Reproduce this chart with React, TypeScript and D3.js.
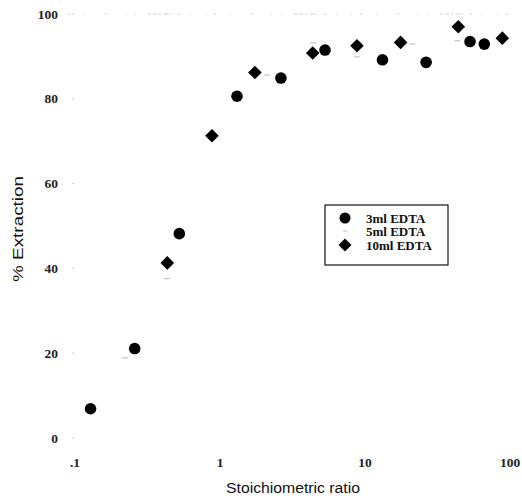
import React from "react";
import * as d3 from "d3";

const ratio3ml = [0.128, 0.258, 0.524, 1.31, 2.63, 5.3, 13.2, 26.4, 53, 66.5];
const extraction3ml = [6.9, 21.1, 48.2, 80.6, 84.9, 91.5, 89.2, 88.6, 93.5, 92.9];

const ratio5ml = [0.221, 0.43, 0.88, 2.11, 4.38, 8.8, 21.2, 43.4];
const extraction5ml = [18.9, 37.6, 70.5, 85.6, 93.2, 89.9, 92.9, 93.7];

const ratio10ml = [0.433, 0.88, 1.74, 4.36, 8.8, 17.6, 44, 88.5];
const extraction10ml = [41.3, 71.3, 86.2, 90.8, 92.5, 93.3, 97.0, 94.3];

const xTicks = [0.1, 1, 10, 100];
const xTickLabels = [".1", "1", "10", "100"];
const yTicks = [0, 20, 40, 60, 80, 100];

const seriesNames = ["3ml EDTA", "5ml EDTA", "10ml EDTA"];

export default function App() {
  const W = 522;
  const H = 499;
  const x = d3.scaleLog().domain([0.1, 100]).range([75, 510]);
  const y = d3.scaleLinear().domain([0, 100]).range([438, 14]);
  const serif = "'Liberation Serif', 'Times New Roman', serif";
  const sans = "'Liberation Sans', Arial, sans-serif";

  const diamond = (cx: number, cy: number, r: number) =>
    `M${cx},${cy - r}L${cx + r},${cy}L${cx},${cy + r}L${cx - r},${cy}Z`;

  return (
    <svg
      width={W}
      height={H}
      style={{ position: "absolute", left: 0, top: 0, background: "#fff" }}
    >
      {/* faint top border */}
      <line
        x1={68}
        x2={515}
        y1={y(100)}
        y2={y(100)}
        stroke="#cfcfcf"
        strokeWidth={1}
        strokeDasharray="2,14,1,20,2,18,1,9,1,12,3,2,4,2,2,3,5,2,1,6,2,10,1,14,1,8"
      />
      {/* y ticks */}
      {yTicks.map((t) => (
        <g key={"y" + t}>
          <line x1={72} x2={74} y1={y(t)} y2={y(t)} stroke="#ccc" strokeWidth={1} />
          <text
            x={58}
            y={y(t) + 4.5}
            textAnchor="end"
            fontFamily={serif}
            fontSize={13.5}
            fontWeight="bold"
            fill="#222"
          >
            {t}
          </text>
        </g>
      ))}
      {/* x ticks */}
      {xTicks.map((t, i) => (
        <text
          key={"x" + t}
          x={x(t)}
          y={467}
          textAnchor="middle"
          fontFamily={serif}
          fontSize={13.5}
          fontWeight="bold"
          fill="#222"
        >
          {xTickLabels[i]}
        </text>
      ))}
      {/* axis titles */}
      <text
        x={293}
        y={493}
        textAnchor="middle"
        fontFamily={sans}
        fontSize={14}
        textLength={134}
        lengthAdjust="spacingAndGlyphs"
        fill="#111"
      >
        Stoichiometric ratio
      </text>
      <text
        transform={`translate(23,229) rotate(-90)`}
        textAnchor="middle"
        fontFamily={sans}
        fontSize={15}
        textLength={106}
        lengthAdjust="spacingAndGlyphs"
        fill="#111"
      >
        % Extraction
      </text>

      {/* 5ml series - faint dashes */}
      {ratio5ml.map((r, i) => (
        <line
          key={"m5" + i}
          x1={x(r) - 3}
          x2={x(r) + 3}
          y1={y(extraction5ml[i])}
          y2={y(extraction5ml[i])}
          stroke="#c4c4c4"
          strokeWidth={1.2}
        />
      ))}
      {/* 3ml series */}
      {ratio3ml.map((r, i) => (
        <circle key={"m3" + i} cx={x(r)} cy={y(extraction3ml[i])} r={5.8} fill="#000" />
      ))}
      {/* 10ml series */}
      {ratio10ml.map((r, i) => (
        <path key={"m10" + i} d={diamond(x(r), y(extraction10ml[i]), 6.8)} fill="#000" />
      ))}

      {/* legend */}
      <rect x={325} y={205} width={123} height={60} fill="#fff" stroke="#111" strokeWidth={1.2} />
      <circle cx={345} cy={218} r={5.5} fill="#000" />
      <line x1={343} x2={347} y1={231} y2={231} stroke="#bbb" strokeWidth={1} />
      <path d={diamond(345, 245, 6.5)} fill="#000" />
      {seriesNames.map((s, i) => (
        <text
          key={s}
          x={366}
          y={[218, 231.5, 245][i] + 4.5}
          fontFamily={serif}
          fontSize={13}
          fontWeight="bold"
          fill="#111"
        >
          {s}
        </text>
      ))}
    </svg>
  );
}
